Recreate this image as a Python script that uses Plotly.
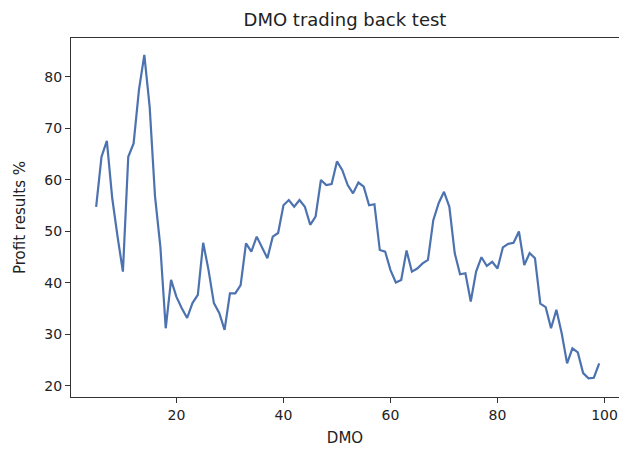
import plotly.graph_objects as go

# DMO period tested and the resulting profit (%)
dmo = list(range(5, 100))
profit = [
    54.8, 64.5, 67.6, 56.5, 49.0, 42.2, 64.5, 67.1, 77.5, 84.3,
    74.2, 56.8, 47.0, 31.2, 40.6, 37.3, 35.1, 33.2, 36.1, 37.7,
    47.8, 42.5, 36.1, 34.2, 30.9, 38.0, 38.0, 39.6, 47.7, 46.1,
    49.0, 46.8, 44.8, 49.0, 49.7, 55.1, 56.1, 54.8, 56.1, 54.8,
    51.3, 52.9, 60.0, 59.0, 59.2, 63.6, 61.9, 59.0, 57.4, 59.5,
    58.7, 55.1, 55.3, 46.4, 46.1, 42.5, 40.1, 40.6, 46.3, 42.2,
    42.8, 43.8, 44.5, 52.2, 55.5, 57.7, 54.8, 45.8, 41.7, 41.9,
    36.4, 42.2, 45.0, 43.3, 44.1, 42.8, 46.9, 47.6, 47.8, 50.0,
    43.5, 45.8, 44.8, 36.0, 35.3, 31.2, 34.8, 30.2, 24.4, 27.3,
    26.5, 22.5, 21.5, 21.6, 24.4,
]

x_ticks = [20, 40, 60, 80, 100]
y_ticks = [20, 30, 40, 50, 60, 70, 80]

fig = go.Figure(
    go.Scatter(
        x=dmo,
        y=profit,
        mode="lines",
        line=dict(color="#4C72B0", width=2.2),
        showlegend=False,
    )
)

axis_common = dict(
    showgrid=False,
    zeroline=False,
    showline=True,
    linecolor="#333333",
    linewidth=1.2,
    ticks="outside",
    ticklen=5,
    tickwidth=1,
    tickcolor="#333333",
    tickfont=dict(family="DejaVu Sans", size=14, color="#222222"),
)

fig.update_xaxes(
    range=[0.3, 102.7],
    tickvals=x_ticks,
    mirror=True,
    title=dict(text="DMO", font=dict(family="DejaVu Sans", size=15, color="#222222"), standoff=10),
    **axis_common,
)
fig.update_yaxes(
    range=[17.86, 87.57],
    tickvals=y_ticks,
    title=dict(text="Profit results %", font=dict(family="DejaVu Sans", size=15, color="#222222"), standoff=15),
    **axis_common,
)

fig.update_layout(
    width=619,
    height=449,
    margin=dict(l=71, r=0, t=38, b=52),
    paper_bgcolor="white",
    plot_bgcolor="white",
    title=dict(
        text="DMO trading back test",
        font=dict(family="DejaVu Sans", size=18, color="#222222"),
        xref="paper",
        x=0.5,
        xanchor="center",
        yref="container",
        y=1 - 20 / 449,
        yanchor="middle",
    ),
)

fig.write_html("out.html")
